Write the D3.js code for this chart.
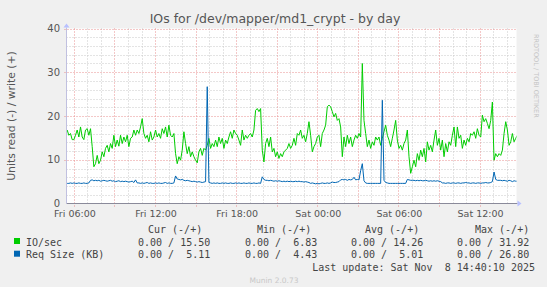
<!DOCTYPE html>
<html><head><meta charset="utf-8">
<script src="https://cdn.jsdelivr.net/npm/d3@7"></script>
<style>
body{margin:0;background:#f0f0f0}
svg{display:block}
text{font-family:"DejaVu Sans",sans-serif}
.mono{font-family:"DejaVu Sans Mono",monospace;white-space:pre}
</style>
</head><body><svg id="c" width="547" height="287"></svg>
<script>
// ---- data ----
const startTime = "2025-11-07T05:30:00Z";
const stepSeconds = 444;
const ioSec = [
16.8,15.6,16.0,14.6,14.6,15.6,16.8,15.2,17.5,15.2,
14.6,16.8,17.1,15.6,17.1,13.0,8.4,9.1,11.0,9.1,
9.9,11.8,10.7,12.6,13.3,11.8,13.7,12.6,15.6,13.0,
14.5,13.1,15.6,13.7,15.2,14.1,15.6,13.0,14.9,15.2,
16.8,15.6,16.8,16.0,17.5,19.4,16.0,14.9,15.6,14.1,
16.4,14.5,15.2,16.8,15.2,16.0,14.9,17.1,16.0,17.5,
15.2,17.9,15.6,15.2,16.0,11.4,9.1,10.7,9.9,12.2,
16.4,13.7,11.4,13.0,10.7,11.8,10.7,9.9,9.3,11.8,
12.6,11.0,12.6,12.2,13.3,14.9,12.6,13.7,13.0,14.5,
13.0,15.2,13.7,14.9,12.6,14.5,13.7,15.2,16.4,14.9,
16.8,16.0,15.6,14.5,13.3,16.8,14.5,15.6,14.9,15.6,
16.0,15.2,16.8,21.3,21.7,21.0,21.7,12.2,9.5,13.7,
14.9,13.0,15.2,11.8,12.6,10.7,11.8,10.3,11.4,10.7,
11.8,12.2,12.6,13.7,12.6,13.3,14.9,13.3,16.0,15.6,
16.8,
14.9,15.6,14.1,16.0,18.7,15.6,11.8,13.0,13.7,15.2,
15.6,13.0,16.0,16.8,17.9,22.1,22.5,22.1,21.0,19.8,
20.6,19.0,19.4,17.5,10.7,15.2,13.0,15.6,13.7,15.2,
13.0,14.5,15.6,14.9,16.0,15.2,32.0,19.0,16.0,13.0,
14.5,12.6,14.1,13.3,15.2,14.5,15.2,13.3,14.9,16.4,
17.9,15.6,14.5,13.0,14.9,16.8,19.0,14.5,12.6,13.3,
12.2,13.7,14.5,16.8,10.7,6.9,8.4,9.9,8.4,11.4,
9.9,12.2,10.7,12.6,9.5,14.1,12.2,13.3,11.8,14.5,
16.8,13.3,14.9,12.2,14.5,10.7,13.7,11.8,14.1,13.3,
15.6,17.5,13.0,17.5,14.9,15.6,12.6,14.5,13.3,14.9,
14.1,16.0,15.6,16.4,14.9,17.1,15.6,15.2,20.2,18.7,
19.4,18.3,17.1,19.0,23.2,9.9,11.4,10.7,11.4,11.0,
12.2,16.0,18.7,16.8,13.3,14.1,16.0,14.1,14.9,15.6
];
const reqSize = [
4.6,4.6,4.7,4.6,4.7,4.6,4.6,4.7,4.6,4.6,4.7,4.6,4.6,4.7,
5.3,5.4,5.2,5.3,5.2,5.3,5.1,5.2,5.3,5.2,5.1,5.2,5.3,5.1,5.2,5.0,5.1,5.2,5.0,5.1,5.0,5.1,5.0,4.9,5.0,5.1,
4.8,5.4,4.7,4.7,4.6,4.7,4.6,4.7,4.8,4.6,4.7,4.6,4.6,4.7,4.6,4.7,4.6,4.6,4.7,4.8,4.6,4.7,4.6,4.6,4.7,
6.3,5.6,5.5,5.4,5.5,5.3,5.2,5.3,5.2,5.1,5.0,5.1,5.0,4.9,5.0,4.9,4.8,4.9,5.0,
26.7,
4.8,4.7,4.6,4.7,4.6,4.7,4.6,4.6,4.7,4.6,4.7,4.6,4.6,4.7,4.6,4.6,4.7,4.6,4.7,4.6,4.6,4.7,4.6,4.6,4.7,4.6,4.6,4.7,4.6,4.6,4.7,4.6,
6.1,5.5,5.3,5.3,5.2,5.3,5.2,5.1,5.2,5.1,5.2,5.1,5.0,5.1,5.0,5.1,5.0,5.1,5.0,5.0,5.1,5.0,5.1,5.0,
5.0,4.9,5.0,4.9,4.8,
4.6,4.7,4.6,4.5,4.6,4.5,4.6,4.7,4.6,4.6,4.7,4.6,4.7,
4.9,4.8,4.8,4.9,5.0,
5.4,5.5,5.4,5.5,5.3,5.5,5.4,5.5,6.0,5.4,5.5,5.4,
7.5,9.1,5.2,
4.7,4.6,4.6,4.6,4.6,4.6,4.6,4.6,4.6,4.6,
23.6,
5.3,4.8,4.7,4.6,4.6,4.6,4.6,4.6,4.6,4.6,4.6,4.6,4.6,4.6,
5.5,5.4,5.3,5.3,5.3,5.2,5.3,5.2,5.3,5.2,5.2,5.3,5.2,5.1,5.2,5.1,5.2,5.1,5.2,5.1,5.0,
4.7,4.7,4.6,4.7,4.7,4.6,4.7,4.7,4.6,4.7,4.7,4.6,4.7,4.7,4.8,4.7,4.7,4.6,4.7,4.7,4.6,4.7,4.7,4.6,4.7,4.7,4.8,4.7,4.7,4.8,
5.0,7.2,5.5,5.3,5.3,5.3,5.2,5.3,5.2,5.1,5.3,5.2,5.0,5.2,5.1,5.1
];
const yTicks = [0,10,20,30,40];
const xTickTimes = ["2025-11-07T06:00:00Z","2025-11-07T12:00:00Z","2025-11-07T18:00:00Z","2025-11-08T00:00:00Z","2025-11-08T06:00:00Z","2025-11-08T12:00:00Z"];
const timeDomain = ["2025-11-07T05:27:00Z","2025-11-08T14:44:00Z"];
const seriesNames = ["IO/sec","Req Size (KB)"];
const seriesColors = ["#00cc00","#0066b3"];
const legendHeaders = ["Cur (-/+)","Min (-/+)","Avg (-/+)","Max (-/+)"];
const legendIO = ["0.00 / 15.50","0.00 /  6.83","0.00 / 14.26","0.00 / 31.92"];
const legendReq = ["0.00 /  5.11","0.00 /  4.43","0.00 /  5.01","0.00 / 26.80"];
const titleText = "IOs for /dev/mapper/md1_crypt - by day";
const yLabel = "Units read (-) / write (+)";
const lastUpdate = "Last update: Sat Nov  8 14:40:10 2025";
const footer = "Munin 2.0.73";
const sideText = "RRDTOOL / TOBI OETIKER";

// ---- drawing ----
const svg = d3.select("#c");
const L = 66.5, R = 516.5, T = 28.5, B = 203.5;
const x = d3.scaleUtc().domain(timeDomain.map(d => new Date(d))).range([L, R]);
const y = d3.scaleLinear().domain([0, 40]).range([B, T]);
const t0 = new Date(startTime).getTime();
const timeAt = i => new Date(t0 + i * stepSeconds * 1000);

svg.append("rect").attr("width", 547).attr("height", 287).attr("fill", "#f0f0f0");
svg.append("rect").attr("x", L).attr("y", T).attr("width", R - L).attr("height", B - T).attr("fill", "#ffffff");

// grid
const g = svg.append("g");
const minorY = d3.range(0, 41, 2).filter(v => v % 10 !== 0);
g.selectAll(".hm").data(minorY).join("line")
  .attr("x1", L).attr("x2", R).attr("y1", d => Math.round(y(d)) + 0.5).attr("y2", d => Math.round(y(d)) + 0.5)
  .attr("stroke", "#c8c8c8").attr("stroke-dasharray", "1,2");
const hours = d3.utcHour.range(x.domain()[0], x.domain()[1]);
const minorX = hours.filter(d => d.getUTCHours() % 3 !== 0);
const majorX = hours.filter(d => d.getUTCHours() % 3 === 0);
g.selectAll(".vm").data(minorX).join("line")
  .attr("y1", T).attr("y2", B + 2).attr("x1", d => Math.round(x(d)) + 0.5).attr("x2", d => Math.round(x(d)) + 0.5)
  .attr("stroke", "#c8c8c8").attr("stroke-dasharray", "1,2");
g.selectAll(".vM").data(majorX).join("line")
  .attr("y1", T).attr("y2", B + 3).attr("x1", d => Math.round(x(d)) + 0.5).attr("x2", d => Math.round(x(d)) + 0.5)
  .attr("stroke", "#e89090").attr("stroke-dasharray", "1,2");
g.selectAll(".hM").data(yTicks.filter(v => v > 0)).join("line")
  .attr("x1", L - 2).attr("x2", R).attr("y1", d => Math.round(y(d)) + 0.5).attr("y2", d => Math.round(y(d)) + 0.5)
  .attr("stroke", "#e89090").attr("stroke-dasharray", "1,2");

// y tick labels
svg.selectAll(".yt").data(yTicks).join("text")
  .attr("x", 60).attr("y", d => y(d) + 3.5).attr("text-anchor", "end")
  .attr("font-size", 10).attr("fill", "#555").text(d => d);
// x tick labels
svg.selectAll(".xt").data(xTickTimes).join("text")
  .attr("x", d => x(new Date(d)) + 1).attr("y", 217).attr("text-anchor", "middle")
  .attr("font-size", 9.5).attr("fill", "#555").text(d => d3.utcFormat("%a %H:%M")(new Date(d)));

// lines
svg.append("clipPath").attr("id", "clip").append("rect").attr("x", L).attr("y", T - 5).attr("width", R - L).attr("height", B - T + 5);
const line = d3.line().x((d, i) => x(timeAt(i))).y(d => y(d));
[ioSec, reqSize].forEach((s, k) => {
  svg.append("path").datum(s).attr("d", line).attr("fill", "none")
    .attr("stroke", seriesColors[k]).attr("stroke-width", 1).attr("clip-path", "url(#clip)");
});

// axes
svg.append("line").attr("x1", L).attr("x2", R + 1).attr("y1", B).attr("y2", B).attr("stroke", "#8a8a9a");
svg.append("line").attr("x1", L).attr("x2", L).attr("y1", T - 1).attr("y2", B).attr("stroke", "#c0c0e0");
svg.append("path").attr("d", `M${R + 1},${B - 3} L${R + 5},${B} L${R + 1},${B + 3} Z`).attr("fill", "#b8c0ff");
svg.append("path").attr("d", `M${L - 3},${T - 1} L${L},${T - 5} L${L + 3},${T - 1} Z`).attr("fill", "#b8c0ff");

// title, labels
svg.append("text").attr("x", 275).attr("y", 23).attr("text-anchor", "middle")
  .attr("font-size", 12.5).attr("fill", "#555").text(titleText);
svg.append("text").attr("transform", `translate(15,${(T + B) / 2}) rotate(-90)`).attr("text-anchor", "middle")
  .attr("font-size", 10.8).attr("fill", "#555").text(yLabel);
svg.append("text").attr("transform", "translate(534,34) rotate(90)").attr("text-anchor", "start")
  .attr("font-size", 6.5).attr("fill", "#c4c4c4").text(sideText);

// legend
const headerX = [148, 257, 365, 475];
const valueX = [138, 245, 351, 457];
svg.selectAll(".lh").data(legendHeaders).join("text").attr("class", "mono")
  .attr("x", (d, i) => headerX[i]).attr("y", 232.5).attr("font-size", 10).attr("fill", "#444").text(d => d);
[legendIO, legendReq].forEach((row, k) => {
  const yy = 245.5 + k * 12.7;
  svg.append("rect").attr("x", 14).attr("y", yy - 7.5).attr("width", 6).attr("height", 6).attr("fill", seriesColors[k]);
  svg.append("text").attr("class", "mono").attr("x", 26).attr("y", yy).attr("font-size", 10).attr("fill", "#444").text(seriesNames[k]);
  svg.selectAll(".lv" + k).data(row).join("text").attr("class", "mono")
    .attr("x", (d, i) => valueX[i]).attr("y", yy).attr("font-size", 10).attr("fill", "#444").text(d => d);
});
svg.append("text").attr("class", "mono").attr("x", 535).attr("y", 270.5).attr("text-anchor", "end")
  .attr("font-size", 10).attr("fill", "#444").text(lastUpdate);
svg.append("text").attr("x", 274).attr("y", 283).attr("text-anchor", "middle")
  .attr("font-size", 7.5).attr("fill", "#c8c8c8").text(footer);
</script>
</body></html>
